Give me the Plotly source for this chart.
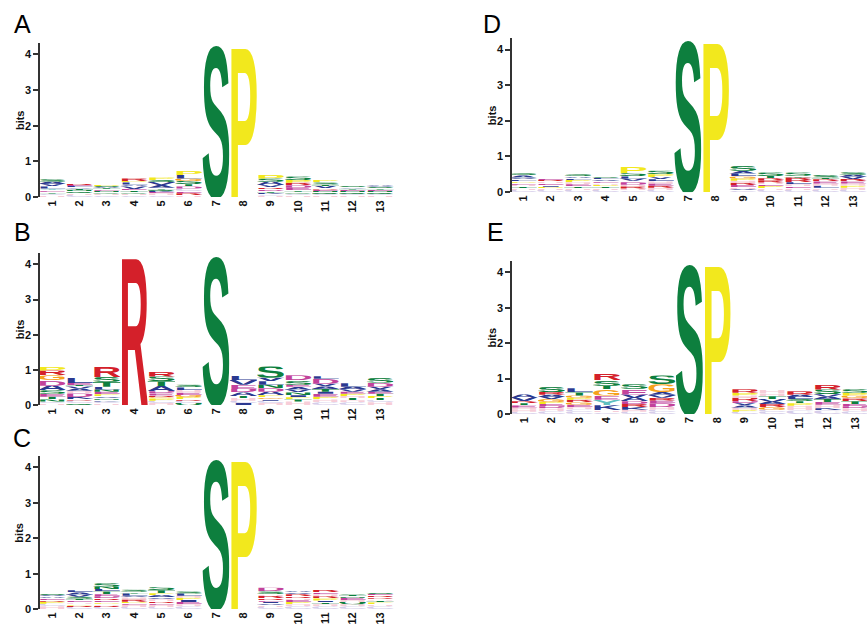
import base64
import plotly.graph_objects as go

# ---------------- data ----------------
positions = list(range(1, 14))
tick_labels = [str(p) for p in positions]
panel_names = ["A", "B", "C", "D", "E"]

# letters of each stack, listed bottom -> top, and their heights in bits
A_letters = ["HCTEYLVAS", "CHQNTVLER", "CHQNETASP", "CHQTEVALPR", "CHEKQTAVSP", "HRECDTSGLP", "S", "P",
             "HCKTDRVASP", "HCQTEDRPS", "HCQNERVTSP", "HCQNETVS", "HCQNETSVA"]
A_bits = [
    [0.05, 0.05, 0.05, 0.05, 0.04, 0.06, 0.06, 0.07, 0.07],
    [0.06, 0.05, 0.05, 0.04, 0.04, 0.04, 0.03, 0.03, 0.03],
    [0.05, 0.05, 0.04, 0.04, 0.04, 0.03, 0.03, 0.03, 0.03],
    [0.05, 0.05, 0.04, 0.05, 0.04, 0.07, 0.05, 0.06, 0.04, 0.07],
    [0.05, 0.06, 0.03, 0.03, 0.04, 0.05, 0.08, 0.08, 0.06, 0.07],
    [0.05, 0.06, 0.05, 0.08, 0.06, 0.06, 0.09, 0.07, 0.10, 0.12],
    [4.32], [4.32],
    [0.04, 0.04, 0.04, 0.05, 0.05, 0.05, 0.06, 0.10, 0.09, 0.11],
    [0.05, 0.05, 0.05, 0.05, 0.06, 0.07, 0.07, 0.08, 0.10],
    [0.05, 0.04, 0.04, 0.04, 0.04, 0.04, 0.06, 0.04, 0.06, 0.07],
    [0.05, 0.04, 0.04, 0.04, 0.04, 0.03, 0.03, 0.04],
    [0.05, 0.04, 0.04, 0.04, 0.04, 0.04, 0.04, 0.03, 0.04],
]

B_letters = ["HCNTESADGRP", "QCRKDHAVTEL", "HCKNVPENLTSR", "R", "HCPGREDATSR", "QCRPGEHLS", "S",
             "ICHTADEVL", "HCIGPADNLVS", "HTPINVAESD", "CHPEITAVDL", "CHTHPEVAL", "HCTPTEAVDS"]
B_bits = [
    [0.05, 0.05, 0.06, 0.08, 0.08, 0.10, 0.13, 0.15, 0.15, 0.13, 0.12],
    [0.05, 0.08, 0.04, 0.06, 0.10, 0.08, 0.06, 0.06, 0.04, 0.06, 0.16],
    [0.05, 0.05, 0.05, 0.05, 0.05, 0.06, 0.07, 0.06, 0.08, 0.14, 0.14, 0.30],
    [4.32],
    [0.06, 0.06, 0.07, 0.03, 0.05, 0.06, 0.06, 0.15, 0.14, 0.13, 0.15],
    [0.06, 0.06, 0.05, 0.06, 0.06, 0.06, 0.08, 0.07, 0.08],
    [4.32],
    [0.06, 0.06, 0.08, 0.06, 0.10, 0.10, 0.12, 0.13, 0.12],
    [0.06, 0.06, 0.05, 0.05, 0.06, 0.10, 0.10, 0.10, 0.10, 0.10, 0.32],
    [0.10, 0.06, 0.06, 0.06, 0.08, 0.08, 0.08, 0.06, 0.12, 0.15],
    [0.08, 0.08, 0.08, 0.08, 0.06, 0.08, 0.07, 0.08, 0.14, 0.07],
    [0.08, 0.06, 0.06, 0.06, 0.06, 0.06, 0.07, 0.07, 0.10],
    [0.08, 0.06, 0.06, 0.06, 0.06, 0.06, 0.07, 0.07, 0.12, 0.16],
]

C_letters = ["HCPREAVS", "CRPHETSVAL", "CRHPERDETLNS", "CHEPRHVLTS", "CHERHVAPTS", "CHEIPHLS", "S", "P",
             "CHVIERRHSD", "CHPEHRRVA", "CHTIPRHER", "CHQHENTS", "CHPTHRRES"]
C_bits = [
    [0.08, 0.07, 0.06, 0.05, 0.05, 0.05, 0.04, 0.04],
    [0.06, 0.04, 0.05, 0.05, 0.05, 0.04, 0.06, 0.06, 0.06, 0.06],
    [0.06, 0.04, 0.05, 0.05, 0.05, 0.05, 0.06, 0.06, 0.08, 0.07, 0.06, 0.10],
    [0.06, 0.06, 0.05, 0.04, 0.06, 0.06, 0.05, 0.06, 0.05, 0.06],
    [0.06, 0.06, 0.05, 0.05, 0.06, 0.05, 0.06, 0.06, 0.08, 0.09],
    [0.08, 0.06, 0.06, 0.06, 0.06, 0.06, 0.06, 0.06],
    [4.32], [4.32],
    [0.06, 0.05, 0.05, 0.05, 0.05, 0.05, 0.06, 0.05, 0.08, 0.10],
    [0.08, 0.06, 0.06, 0.06, 0.05, 0.05, 0.06, 0.05, 0.05],
    [0.08, 0.06, 0.05, 0.05, 0.06, 0.06, 0.06, 0.05, 0.07],
    [0.08, 0.06, 0.06, 0.06, 0.06, 0.05, 0.04, 0.04],
    [0.08, 0.05, 0.06, 0.05, 0.05, 0.05, 0.05, 0.04, 0.04],
]

D_letters = ["CHTHEPLVAS", "CHPIEHRE", "CHTEHPLAS", "CHTPHEVLS", "CHRHDEVLSP", "CHREHLVPS", "S", "P",
             "CVHERHPGLAS", "CHPEHRRTS", "CHEHLRRTS", "CHLHERTS", "CHPHERVAS"]
D_bits = [
    [0.06, 0.05, 0.05, 0.05, 0.05, 0.05, 0.05, 0.05, 0.06, 0.06],
    [0.06, 0.05, 0.04, 0.05, 0.05, 0.05, 0.04, 0.04],
    [0.06, 0.05, 0.05, 0.06, 0.06, 0.06, 0.05, 0.05, 0.06],
    [0.06, 0.05, 0.05, 0.05, 0.05, 0.05, 0.05, 0.04, 0.05],
    [0.05, 0.05, 0.06, 0.05, 0.06, 0.05, 0.06, 0.06, 0.09, 0.20],
    [0.06, 0.06, 0.06, 0.06, 0.06, 0.06, 0.06, 0.08, 0.10],
    [4.32], [4.32],
    [0.05, 0.04, 0.05, 0.06, 0.06, 0.06, 0.06, 0.06, 0.08, 0.08, 0.14],
    [0.06, 0.05, 0.06, 0.05, 0.05, 0.06, 0.06, 0.06, 0.10],
    [0.06, 0.05, 0.05, 0.06, 0.06, 0.06, 0.07, 0.05, 0.09],
    [0.07, 0.05, 0.06, 0.06, 0.06, 0.06, 0.05, 0.07],
    [0.06, 0.06, 0.06, 0.06, 0.06, 0.07, 0.06, 0.06, 0.07],
]

E_letters = ["CHHETRVA", "CHDEPGVARS", "CCHEGRPGTL", "CHKYEGTSR", "CHKRDAVES", "CCHDERVAGS", "S", "P",
             "CPHAVDRHPR", "CCGRAVTHH", "CHHPTSLAR", "CKHETAVSR", "CHDETRGPS"]
E_bits = [
    [0.06, 0.06, 0.06, 0.06, 0.06, 0.06, 0.09, 0.10],
    [0.08, 0.08, 0.06, 0.06, 0.06, 0.08, 0.06, 0.06, 0.08, 0.14],
    [0.07, 0.06, 0.06, 0.07, 0.07, 0.07, 0.06, 0.06, 0.09, 0.12],
    [0.05, 0.05, 0.15, 0.15, 0.12, 0.18, 0.10, 0.15, 0.18],
    [0.06, 0.06, 0.08, 0.08, 0.08, 0.09, 0.10, 0.16, 0.13],
    [0.06, 0.06, 0.08, 0.10, 0.08, 0.08, 0.08, 0.08, 0.22, 0.25],
    [4.32], [4.32],
    [0.06, 0.06, 0.06, 0.06, 0.06, 0.06, 0.10, 0.06, 0.08, 0.10],
    [0.06, 0.06, 0.08, 0.08, 0.06, 0.08, 0.08, 0.08, 0.10],
    [0.10, 0.07, 0.06, 0.07, 0.06, 0.06, 0.06, 0.06, 0.10],
    [0.10, 0.06, 0.10, 0.08, 0.08, 0.07, 0.07, 0.13, 0.14],
    [0.08, 0.08, 0.06, 0.06, 0.08, 0.08, 0.08, 0.08, 0.10],
]

# ---------------- styles ----------------
GREEN, YELLOW, RED, BLUE = "#0d7f3e", "#f2e81d", "#d4202a", "#2b3990"
MAGENTA, PINK, ORANGE, LILAC, TEAL = "#c2429b", "#f7cdd8", "#f6a21c", "#d6cdea", "#5fc0bf"
COLORS = {
    "S": GREEN, "T": GREEN, "N": GREEN, "Q": GREEN,
    "P": YELLOW, "G": ORANGE,
    "R": RED, "K": BLUE,
    "D": MAGENTA, "E": MAGENTA, "H": PINK, "C": LILAC, "Y": TEAL,
    "A": BLUE, "V": BLUE, "L": BLUE, "I": BLUE, "M": BLUE, "F": BLUE, "W": BLUE,
}

W, H = 867, 626
# pixel geometry of each panel: axis-left, centre of pos 1, centre of pos 13, right edge,
# zero line, px per bit, panel-letter corner, "bits" centre x
GEOM = {
    "A": dict(left=40, p1=52, p13=380, right=394, zero=199, ppb=36.0, lab=(12, 8), bx=20),
    "B": dict(left=40, p1=52, p13=380, right=394, zero=409, ppb=35.5, lab=(12, 218), bx=20),
    "C": dict(left=40, p1=52, p13=380, right=394, zero=615, ppb=35.75, lab=(11, 426), bx=19),
    "D": dict(left=512, p1=523, p13=853, right=867, zero=194, ppb=36.0, lab=(481, 8), bx=492),
    "E": dict(left=512, p1=524, p13=855, right=867, zero=418, ppb=35.75, lab=(485, 218), bx=492),
}
YMAX = 4.32
DATA = {"A": (A_letters, A_bits), "B": (B_letters, B_bits), "C": (C_letters, C_bits),
        "D": (D_letters, D_bits), "E": (E_letters, E_bits)}
FONT = "Liberation Sans, Arial, Helvetica, sans-serif"

_cache = {}


def glyph(ch):
    if ch in _cache:
        return _cache[ch]
    cap = 71.6
    svg = ('<svg xmlns="http://www.w3.org/2000/svg" viewBox="4 %.1f 92 %.1f" preserveAspectRatio="none">'
           '<text x="0" y="100" font-family="Liberation Sans, Arial, Helvetica, sans-serif" font-weight="bold" '
           'font-size="100" fill="%s" textLength="100" lengthAdjust="spacingAndGlyphs">%s</text></svg>'
           % (100 - cap, cap, COLORS[ch], ch))
    uri = "data:image/svg+xml;base64," + base64.b64encode(svg.encode()).decode()
    _cache[ch] = uri
    return uri


fig = go.Figure()
images = []
annotations = []
layout_axes = {}

for i, name in enumerate(panel_names, start=1):
    g = GEOM[name]
    letters, bits = DATA[name]
    s = (g["p13"] - g["p1"]) / 12.0
    x0 = 1 - (g["p1"] - g["left"]) / s
    x1 = 13 + (g["right"] - g["p13"]) / s
    top_px = g["zero"] - YMAX * g["ppb"]
    xa = "x" if i == 1 else "x%d" % i
    ya = "y" if i == 1 else "y%d" % i
    xkey = "xaxis" if i == 1 else "xaxis%d" % i
    ykey = "yaxis" if i == 1 else "yaxis%d" % i

    totals = [sum(b) for b in bits]
    fig.add_trace(go.Scatter(x=positions, y=totals, mode="markers", marker=dict(opacity=0),
                             hoverinfo="skip", showlegend=False, xaxis=xa, yaxis=ya))

    for pos, lets, hts in zip(positions, letters, bits):
        base = 0.0
        for ch, h in zip(lets, hts):
            images.append(dict(source=glyph(ch), xref=xa, yref=ya, x=pos - 0.5, y=base + h,
                               sizex=1.0, sizey=h, sizing="stretch", xanchor="left", yanchor="top",
                               layer="above"))
            base += h

    layout_axes[xkey] = dict(
        domain=[g["left"] / W, g["right"] / W], anchor=ya, range=[x0, x1],
        tickmode="array", tickvals=positions, ticktext=tick_labels, tickangle=-90,
        showline=False, ticks="", showgrid=False, zeroline=False, fixedrange=True,
        tickfont=dict(family=FONT, size=11, color="#111", weight="bold"),
    )
    layout_axes[ykey] = dict(
        domain=[1 - g["zero"] / H, 1 - top_px / H], anchor=xa, range=[0, YMAX],
        tickvals=[0, 1, 2, 3, 4], showline=True, linecolor="#333", linewidth=1.5,
        ticks="outside", ticklen=5, tickwidth=1.5, tickcolor="#333",
        showgrid=False, zeroline=False, fixedrange=True,
        tickfont=dict(family=FONT, size=11, color="#111", weight="bold"),
    )
    lx, ly = g["lab"]
    annotations.append(dict(text=name, xref="paper", yref="paper", x=lx / W, y=1 - ly / H,
                            xanchor="left", yanchor="top", showarrow=False,
                            font=dict(family=FONT, size=25, color="#000")))
    annotations.append(dict(text="bits", xref="paper", yref="paper", x=g["bx"] / W,
                            y=1 - (g["zero"] + top_px) / 2 / H, xanchor="center", yanchor="middle",
                            textangle=-90, showarrow=False,
                            font=dict(family=FONT, size=11, color="#111", weight="bold")))

fig.update_layout(
    width=W, height=H, margin=dict(l=0, r=0, t=0, b=0),
    paper_bgcolor="white", plot_bgcolor="white", showlegend=False,
    images=images, annotations=annotations, **layout_axes,
)

fig.write_html("out.html", config={"displayModeBar": False},
               post_script="document.body.style.margin='0';document.body.style.overflow='hidden';")
